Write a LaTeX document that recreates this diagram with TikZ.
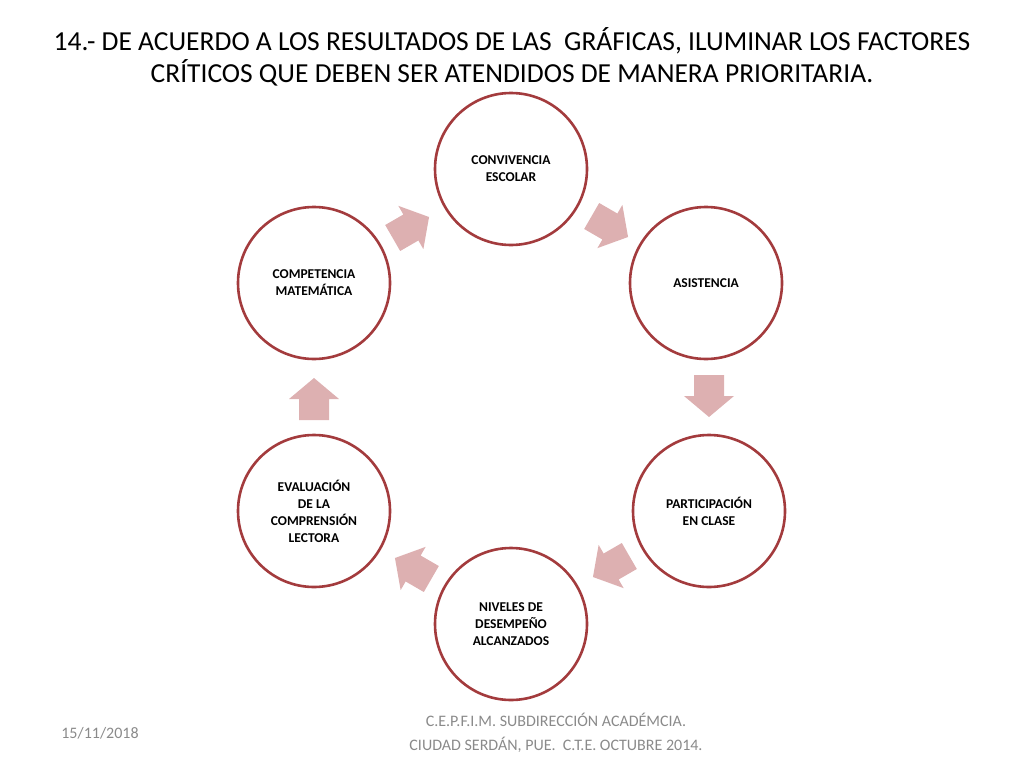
\documentclass[tikz,border=0pt]{standalone}
\usepackage{fontspec}
\setmainfont{Carlito}
\definecolor{ring}{HTML}{A33B3D}
\definecolor{arr}{HTML}{DDB0B1}
\definecolor{foot}{HTML}{8A8A8A}
\tikzset{
  circ/.style={circle,draw=ring,line width=2.6pt,fill=white,minimum size=152pt,inner sep=0pt,
    align=center,font=\fontsize{13.5}{17}\selectfont\bfseries},
  barrow/.style={fill=arr}
}
\newcommand\blockarrow[3]{%
  \coordinate (#1) at (#2);
  \fill[barrow,shift={(#1)},rotate=#3] (-20,-15) -- (1,-15) -- (1,-25) -- (22,0) -- (1,25) -- (1,15) -- (-20,15) -- cycle;}
\begin{document}
\begin{tikzpicture}[x=1pt,y=-1pt]
\useasboundingbox (0,0) rectangle (1024,768);
\node[font=\fontsize{27.5}{32}\selectfont,align=center] (title) at (512,57)
 {14.- DE ACUERDO A LOS RESULTADOS DE LAS\ \ GRÁFICAS, ILUMINAR LOS FACTORES\\CRÍTICOS QUE DEBEN SER ATENDIDOS DE MANERA PRIORITARIA.};
\node[circ] (c1) at (511,169) {CONVIVENCIA\\ESCOLAR};
\node[circ] (c2) at (706,283) {ASISTENCIA};
\node[circ] (c3) at (709,511) {PARTICIPACIÓN\\EN CLASE};
\node[circ] (c4) at (511,624) {NIVELES DE\\DESEMPEÑO\\ALCANZADOS};
\node[circ] (c5) at (314,511) {EVALUACIÓN\\DE LA\\COMPRENSIÓN\\LECTORA};
\node[circ] (c6) at (314,283) {COMPETENCIA\\MATEMÁTICA};
\blockarrow{a1}{410,228}{30}
\blockarrow{a2}{609,226}{-30}
\blockarrow{a3}{709,395}{-90}
\blockarrow{a4}{612,566}{-150}
\blockarrow{a5}{414,569}{150}
\blockarrow{a6}{314,400}{90}
\node[font=\fontsize{16}{18}\selectfont,text=foot] (date) at (100,733) {15/11/2018};
\node[font=\fontsize{16}{24}\selectfont,text=foot,align=center] (inst) at (556,733)
 {C.E.P.F.I.M. SUBDIRECCIÓN ACADÉMCIA.\\CIUDAD SERDÁN, PUE.\ \ C.T.E. OCTUBRE 2014.};
\end{tikzpicture}
\end{document}
